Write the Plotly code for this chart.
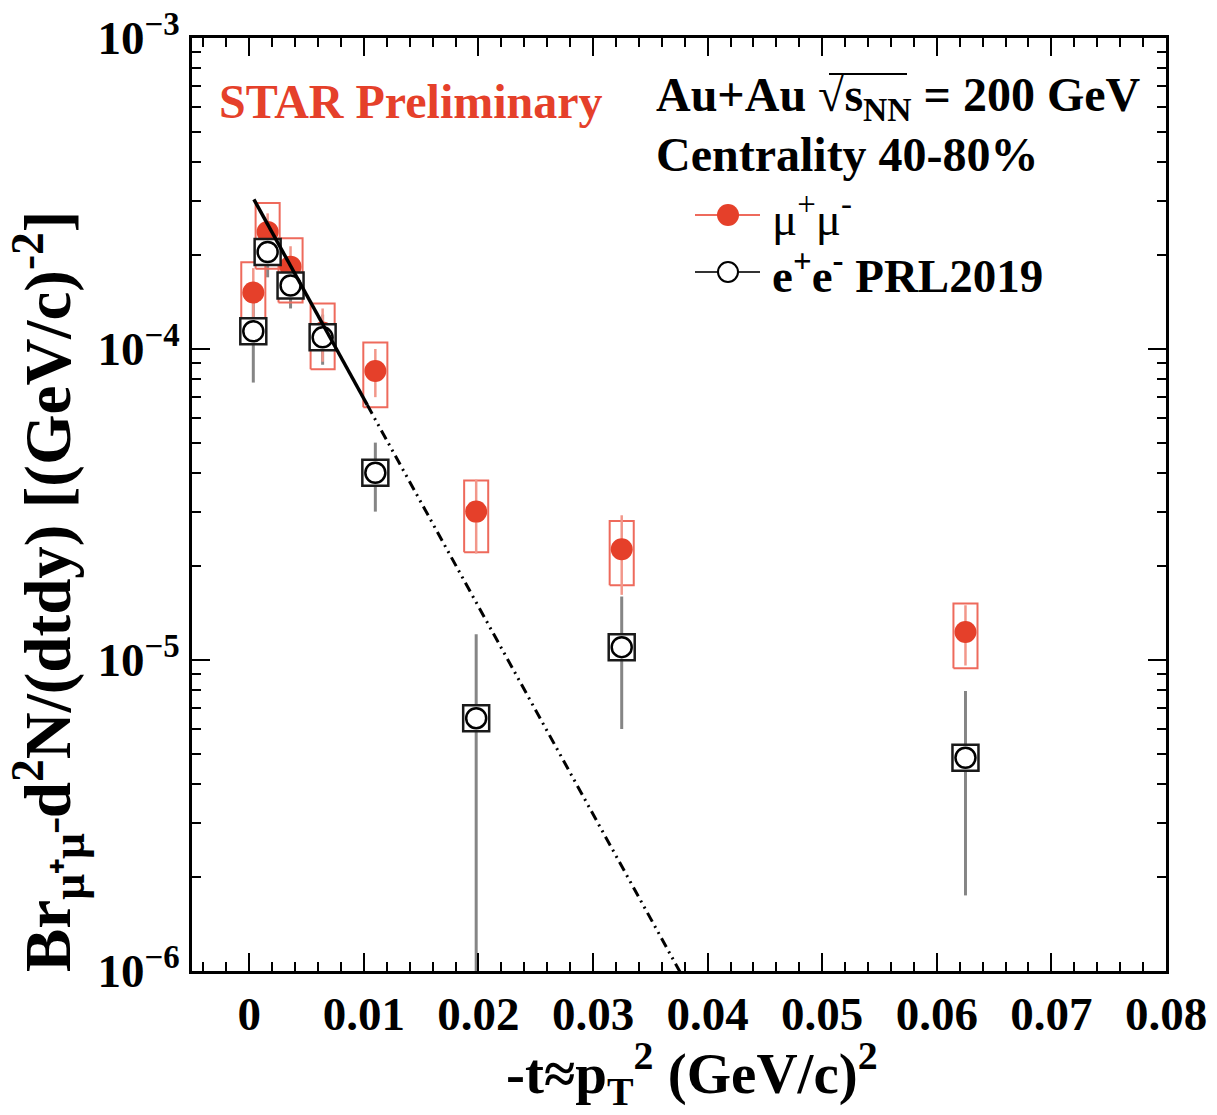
import numpy as np
import plotly.graph_objects as go

# ---------------- data ----------------
t_vals = [0.00035, 0.0016, 0.0036, 0.0064, 0.0110, 0.0198, 0.0325, 0.0625]

# mu+mu- (STAR preliminary)
mumu_y = [1.52e-4, 2.38e-4, 1.84e-4, 1.13e-4, 8.5e-5, 3.0e-5, 2.27e-5, 1.23e-5]
mumu_stat = [0.30e-4, 0.35e-4, 0.30e-4, 0.22e-4, 0.15e-4, 0.80e-5, 0.65e-5, 0.27e-5]
mumu_sys = [0.38e-4, 0.57e-4, 0.43e-4, 0.27e-4, 0.20e-4, 0.78e-5, 0.53e-5, 0.29e-5]

# e+e- PRL2019
ee_y = [1.14e-4, 2.05e-4, 1.60e-4, 1.09e-4, 4.0e-5, 6.5e-6, 1.10e-5, 4.85e-6]
ee_stat = [0.36e-4, 0.35e-4, 0.25e-4, 0.20e-4, 1.0e-5, 5.6e-6, 0.5e-5, 3.1e-6]

# exponential fit  A*exp(-b t)
fit_A = 3.22e-4
fit_b = 153.8
fit_t_min, fit_t_split, fit_t_max = 0.0004, 0.0103, 0.040

x_tick_vals = [0, 0.01, 0.02, 0.03, 0.04, 0.05, 0.06, 0.07, 0.08]
x_tick_text = ["0", "0.01", "0.02", "0.03", "0.04", "0.05", "0.06", "0.07", "0.08"]
y_tick_vals = [1e-6, 1e-5, 1e-4, 1e-3]
y_tick_text = ["10<sup>−6</sup>", "10<sup>−5</sup>", "10<sup>−4</sup>", "10<sup>−3</sup>"]

# ---------------- style ----------------
RED = "#e5402a"
RED_BOX = "#ee6a5c"
RED_STAT = "#f2978a"
GREY = "#858585"
FONT = "Liberation Serif"
box_half_w = 0.00105

W, H = 1217, 1115
ML, MR, MT, MB = 192, 51, 38, 144
PW, PH = W - ML - MR, H - MT - MB


def xp(px):
    return (px - ML) / PW


def yp(py):
    return (H - MB - py) / PH


fig = go.Figure()

# e+e- stat error bars (drawn first)
fig.add_trace(go.Scatter(
    x=t_vals, y=ee_y, mode="markers",
    marker=dict(size=1, color="rgba(0,0,0,0)"),
    error_y=dict(type="data", array=ee_stat, color=GREY, thickness=3, width=0),
    showlegend=False, hoverinfo="skip"))

# mu+mu- systematic boxes
bx, by = [], []
for t, v, s in zip(t_vals, mumu_y, mumu_sys):
    x0, x1 = t - box_half_w, t + box_half_w
    y0, y1 = v - s, v + s
    bx += [x0, x1, x1, x0, x0, None]
    by += [y0, y0, y1, y1, y0, None]
fig.add_trace(go.Scatter(x=bx, y=by, mode="lines",
                         line=dict(color=RED_BOX, width=2),
                         showlegend=False, hoverinfo="skip"))

# mu+mu- points with stat errors
fig.add_trace(go.Scatter(
    x=t_vals, y=mumu_y, mode="markers",
    marker=dict(symbol="circle", size=22, color=RED),
    error_y=dict(type="data", array=mumu_stat, color=RED_STAT, thickness=2.5, width=0),
    showlegend=False))

# e+e- boxes and markers
fig.add_trace(go.Scatter(
    x=t_vals, y=ee_y, mode="markers",
    marker=dict(symbol="square", size=26, color="white",
                line=dict(color="#1a1a1a", width=2.5)),
    showlegend=False, hoverinfo="skip"))
fig.add_trace(go.Scatter(
    x=t_vals, y=ee_y, mode="markers",
    marker=dict(symbol="circle", size=20, color="white",
                line=dict(color="black", width=2.5)),
    showlegend=False))

# fit
t1 = np.linspace(fit_t_min, fit_t_split, 50)
t2 = np.linspace(fit_t_split, fit_t_max, 100)
fig.add_trace(go.Scatter(x=t1, y=fit_A * np.exp(-fit_b * t1), mode="lines",
                         line=dict(color="black", width=3.5),
                         showlegend=False, hoverinfo="skip"))
fig.add_trace(go.Scatter(x=t2, y=fit_A * np.exp(-fit_b * t2), mode="lines",
                         line=dict(color="black", width=3,
                                   dash="10px,5px,2px,5px,2px,5px"),
                         showlegend=False, hoverinfo="skip"))

axis_common = dict(showline=True, linecolor="black", linewidth=3, mirror="allticks",
                   ticks="inside", ticklen=18, tickwidth=2, tickcolor="black",
                   showgrid=False, zeroline=False, automargin=False)

fig.update_xaxes(range=[-0.005, 0.08], tickvals=x_tick_vals, ticktext=x_tick_text,
                 minor=dict(ticks="inside", ticklen=9, dtick=0.002, tickwidth=1.5,
                            tickcolor="black"),
                 tickfont=dict(family=FONT, size=47, color="black", weight="bold"),
                 ticklabelstandoff=0, **axis_common)
fig.update_yaxes(type="log", range=[-6, -3], tickvals=y_tick_vals, ticktext=y_tick_text,
                 minor=dict(ticks="inside", ticklen=9, dtick="D1", tickwidth=1.5,
                            tickcolor="black"),
                 tickfont=dict(family=FONT, size=47, color="black", weight="bold"),
                 ticklabelstandoff=0, ticklabeloverflow="allow", **axis_common)

anns = []
anns.append(dict(x=xp(217), y=yp(101), xref="paper", yref="paper", xanchor="left",
                 yanchor="middle", showarrow=False, text="<b>STAR Preliminary</b>",
                 font=dict(family=FONT, size=48, color=RED)))
anns.append(dict(x=xp(654), y=yp(98), xref="paper", yref="paper", xanchor="left",
                 yanchor="middle", showarrow=False,
                 text="<b>Au+Au √s<sub>NN</sub> = 200 GeV</b>",
                 font=dict(family=FONT, size=48, color="black")))
anns.append(dict(x=xp(654), y=yp(155), xref="paper", yref="paper", xanchor="left",
                 yanchor="middle", showarrow=False, text="<b>Centrality 40-80%</b>",
                 font=dict(family=FONT, size=48, color="black")))
anns.append(dict(x=xp(770), y=yp(215), xref="paper", yref="paper", xanchor="left",
                 yanchor="middle", showarrow=False, text="μ<sup>+</sup>μ<sup>-</sup>",
                 font=dict(family=FONT, size=47, color="black")))
anns.append(dict(x=xp(770), y=yp(272), xref="paper", yref="paper", xanchor="left",
                 yanchor="middle", showarrow=False,
                 text="<b>e<sup>+</sup>e<sup>-</sup> PRL2019</b>",
                 font=dict(family=FONT, size=47, color="black")))
# axis titles
anns.append(dict(x=xp(692), y=yp(1073), xref="paper", yref="paper", xanchor="center",
                 yanchor="middle", showarrow=False,
                 text="<b>-t≈p<sub>T</sub><sup>2</sup> (GeV/c)<sup>2</sup></b>",
                 font=dict(family=FONT, size=57, color="black")))
anns.append(dict(x=xp(48), y=yp(592), xref="paper", yref="paper", xanchor="center",
                 yanchor="middle", showarrow=False, textangle=-90,
                 text="<b>Br<sub>μ⁺μ⁻</sub>d<sup>2</sup>N/(dtdy) [(GeV/c)<sup>-2</sup>]</b>",
                 font=dict(family=FONT, size=65, color="black")))

shapes = []
# legend glyphs
shapes.append(dict(type="line", xref="paper", yref="paper", x0=xp(695), x1=xp(760),
                   y0=yp(215), y1=yp(215), line=dict(color=RED_BOX, width=2)))
shapes.append(dict(type="circle", xref="paper", yref="paper", xsizemode="pixel",
                   ysizemode="pixel", xanchor=xp(728), yanchor=yp(215),
                   x0=-11, x1=11, y0=-11, y1=11, fillcolor=RED, line=dict(width=0)))
shapes.append(dict(type="line", xref="paper", yref="paper", x0=xp(695), x1=xp(760),
                   y0=yp(272), y1=yp(272), line=dict(color="#333333", width=2)))
shapes.append(dict(type="circle", xref="paper", yref="paper", xsizemode="pixel",
                   ysizemode="pixel", xanchor=xp(728), yanchor=yp(272),
                   x0=-10, x1=10, y0=-10, y1=10, fillcolor="white",
                   line=dict(color="black", width=2)))
# overline of sqrt(s_NN)
shapes.append(dict(type="line", xref="paper", yref="paper", x0=xp(829), x1=xp(907),
                   y0=yp(74), y1=yp(74), line=dict(color="black", width=2)))

fig.update_layout(width=W, height=H, margin=dict(l=ML, r=MR, t=MT, b=MB),
                  paper_bgcolor="white", plot_bgcolor="white",
                  annotations=anns, shapes=shapes, showlegend=False)

fig.write_html("out.html")
